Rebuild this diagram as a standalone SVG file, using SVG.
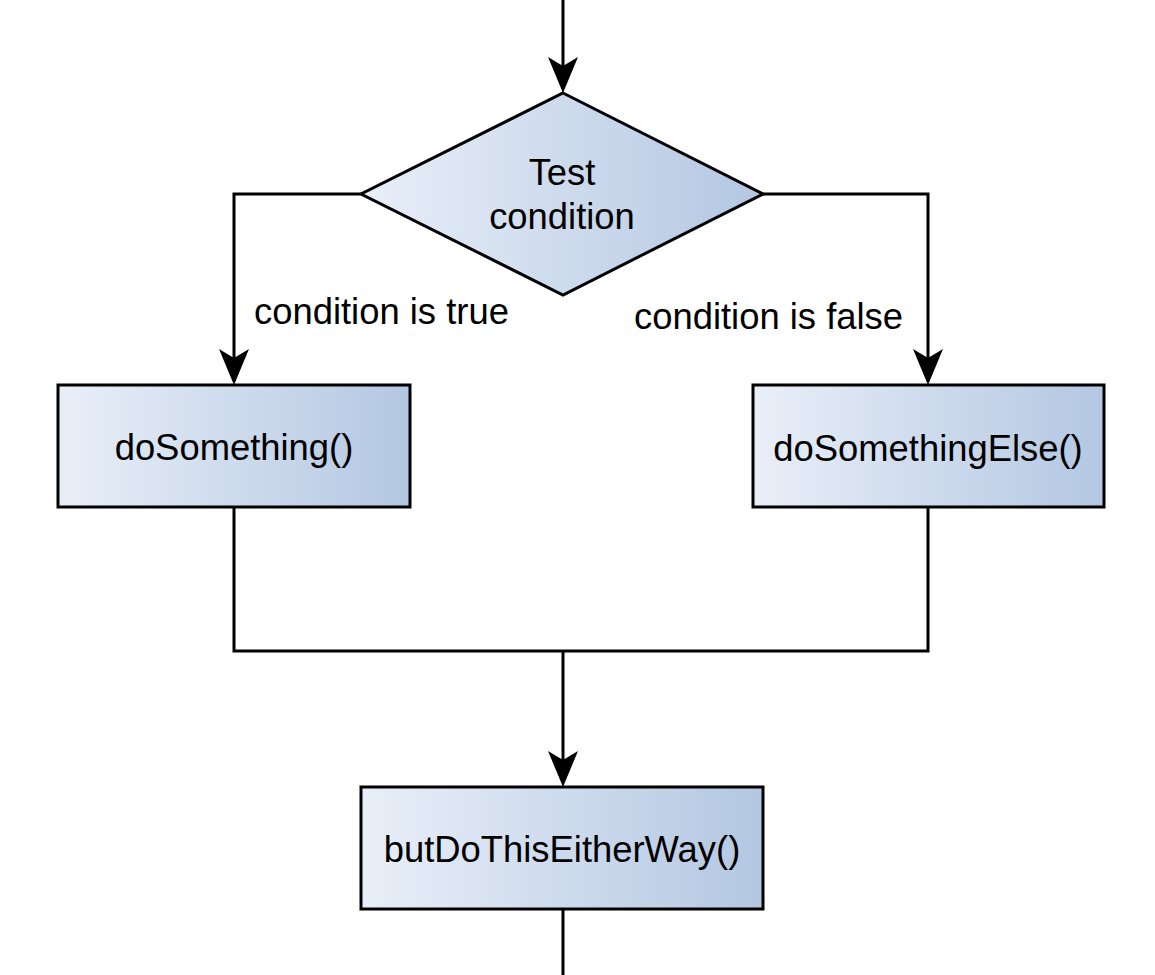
<svg xmlns="http://www.w3.org/2000/svg" width="1155" height="975" viewBox="0 0 1155 975">
<style>
.node{stroke:#000;stroke-width:3}
.t{font-family:"Liberation Sans",Arial,sans-serif;font-size:36.4px;fill:#000;text-anchor:middle}
.lbl{font-family:"Liberation Sans",Arial,sans-serif;font-size:36.4px;fill:#000}
.c{fill:none;stroke:#000;stroke-width:3}
</style>
<defs>
<linearGradient id="g" x1="0" y1="0" x2="1" y2="0">
<stop offset="0" stop-color="#e9eff8"/>
<stop offset="1" stop-color="#b3c7e2"/>
</linearGradient>
<marker id="arr" markerUnits="userSpaceOnUse" markerWidth="40" markerHeight="34" viewBox="-10 -17 40 34" refX="0" refY="0" orient="auto" overflow="visible">
<path d="M-9,-15 L27,0 L-9,15 L0,0 Z" fill="#000"/>
</marker>
</defs>
<rect width="1155" height="975" fill="#fff"/>
<g id="connectors">
<path class="c" d="M563,0 L563,66" marker-end="url(#arr)"/>
<path class="c" d="M361,194 L234,194 L234,358" marker-end="url(#arr)"/>
<path class="c" d="M763,194 L928,194 L928,358" marker-end="url(#arr)"/>
<path class="c" d="M234,508 L234,651 L928,651 L928,508"/>
<path class="c" d="M563,651 L563,760" marker-end="url(#arr)"/>
<path class="c" d="M563,909 L563,975"/>
<text class="lbl" x="254" y="324">condition is true</text>
<text class="lbl" x="634" y="329">condition is false</text>
</g>
<g id="test">
<polygon class="node" points="563,93 763,194 563,295 361,194" fill="url(#g)"/>
<text class="t" x="562" y="185">Test</text>
<text class="t" x="562" y="229">condition</text>
</g>
<g id="doSomething">
<rect class="node" x="58" y="385" width="352" height="122" fill="url(#g)"/>
<text class="t" x="234" y="460">doSomething()</text>
</g>
<g id="doSomethingElse">
<rect class="node" x="753" y="385" width="351" height="122" fill="url(#g)"/>
<text class="t" x="928" y="461">doSomethingElse()</text>
</g>
<g id="butDoThisEitherWay">
<rect class="node" x="361" y="787" width="402" height="122" fill="url(#g)"/>
<text class="t" x="562" y="862">butDoThisEitherWay()</text>
</g>
</svg>
